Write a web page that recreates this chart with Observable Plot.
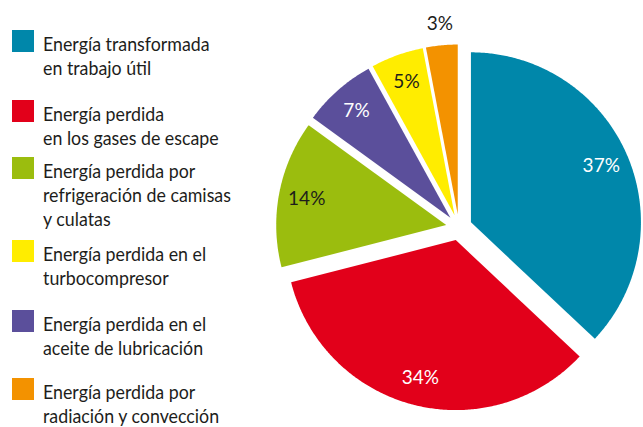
<!DOCTYPE html>
<html><head><meta charset="utf-8">
<script src="https://cdn.jsdelivr.net/npm/d3@7"></script>
<script src="https://cdn.jsdelivr.net/npm/@observablehq/plot@0.6"></script>
<style>
html,body{margin:0;padding:0;background:#fff;}
#wrap{position:relative;width:643px;height:427px;overflow:hidden;font-family:Lato,"Open Sans",sans-serif;}
#chart{position:absolute;left:0;top:0;}
#legend{position:absolute;left:12px;top:30px;}
.item{display:flex;align-items:flex-start;}
.item:nth-child(2){margin-top:21px;}
.item:nth-child(3){margin-top:8px;}
.item:nth-child(4){margin-top:10px;}
.item:nth-child(5){margin-top:21px;}
.item:nth-child(6){margin-top:19px;}
.sw{width:22px;height:22px;flex:none;}
.tx{display:inline-block;margin-left:9px;margin-top:1px;font-size:20px;line-height:24px;color:#1d1d1b;white-space:pre-line;transform:scaleX(0.89);transform-origin:0 0;}
</style></head>
<body><div id="wrap"><div id="chart"></div><div id="legend"></div></div>
<script>
// legend order
const categories = [
  "Energía transformada\nen trabajo útil",
  "Energía perdida\nen los gases de escape",
  "Energía perdida por\nrefrigeración de camisas\ny culatas",
  "Energía perdida en el\nturbocompresor",
  "Energía perdida en el\naceite de lubricación",
  "Energía perdida por\nradiación y convección"
];
const values = [37, 34, 14, 5, 7, 3];
const colors = ["#0087aa", "#e2001a", "#9bbd0e", "#ffed00", "#5b4f9b", "#f39200"];
const labelColors = ["#ffffff", "#ffffff", "#1d1d1b", "#1d1d1b", "#ffffff", "#1d1d1b"];
// clockwise order of the slices, from 12 o'clock
const pieOrder = [0, 1, 2, 4, 3, 5];

// layout
const cx = 458.5, cy = 227, R = 170, explode = 13;
const pieValues = pieOrder.map(i => values[i]);
const arcs = d3.pie().sort(null).value(d => d)(pieValues);
const pt = (a, r, ox, oy) => [ox + r * Math.sin(a), oy - r * Math.cos(a)];

const features = arcs.map((a, j) => {
  const i = pieOrder[j];
  const mid = (a.startAngle + a.endAngle) / 2;
  const ox = cx + explode * Math.sin(mid), oy = cy - explode * Math.cos(mid);
  const span = a.endAngle - a.startAngle;
  const n = Math.max(2, Math.ceil(span / (Math.PI / 360)));
  const ring = [[ox, oy]];
  for (let k = 0; k <= n; k++) ring.push(pt(a.startAngle + span * k / n, R, ox, oy));
  ring.push([ox, oy]);
  return {type: "Feature", properties: {color: colors[i]}, geometry: {type: "Polygon", coordinates: [ring]}};
});

const labelData = arcs.map((a, j) => {
  const i = pieOrder[j];
  const mid = (a.startAngle + a.endAngle) / 2;
  const r = values[i] <= 3 ? 204 : 155;
  const [x, y] = pt(mid, r, cx, cy);
  return {x, y, text: values[i] + "%", color: labelColors[i]};
});

const chart = Plot.plot({
  width: 643, height: 427, margin: 0,
  projection: "identity",
  color: {type: "identity"},
  marks: [
    Plot.geo(features, {fill: d => d.properties.color, stroke: "none"}),
    Plot.text(labelData, {x: "x", y: "y", text: "text", fill: "color", fontSize: 19, fontFamily: "Lato", textAnchor: "middle"})
  ]
});
document.getElementById("chart").appendChild(chart);

const legend = d3.select("#legend");
categories.forEach((c, i) => {
  const it = legend.append("div").attr("class", "item");
  it.append("div").attr("class", "sw").style("background", colors[i]);
  it.append("span").attr("class", "tx").text(c);
});
</script>
</body></html>
